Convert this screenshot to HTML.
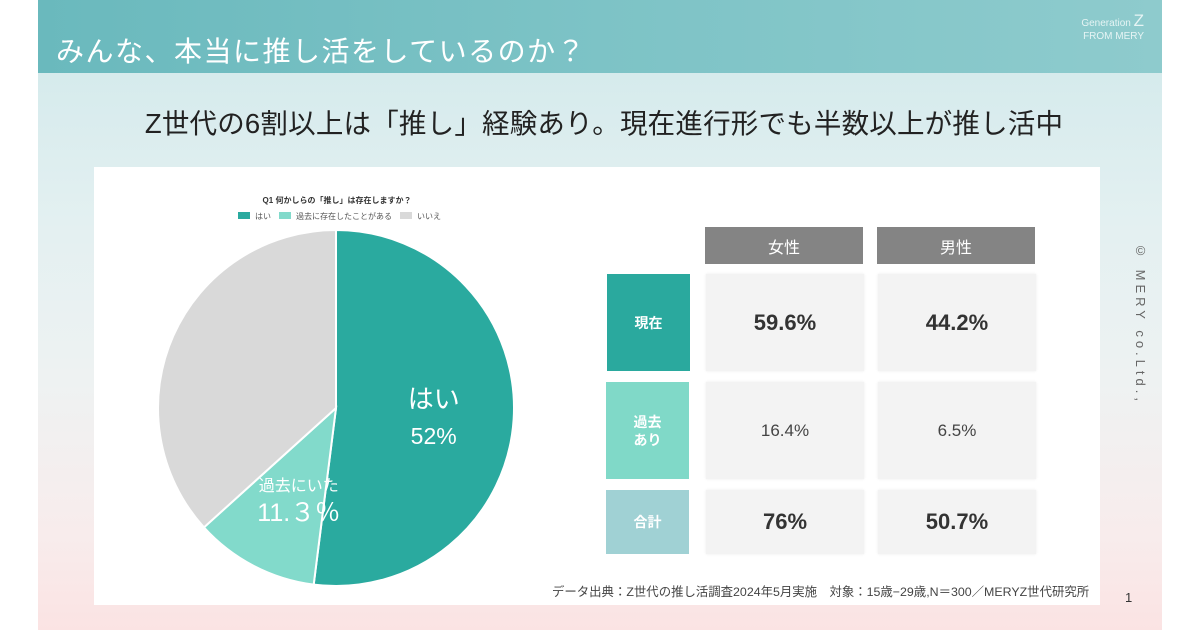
<!DOCTYPE html>
<html><head><meta charset="utf-8">
<style>
body{margin:0;width:1200px;height:630px;background:#fff;position:relative;overflow:hidden;font-family:"Liberation Sans","Noto Sans CJK JP",sans-serif}
.slide{position:absolute;left:38px;top:0;width:1124px;height:630px;background:linear-gradient(180deg,#cfe8ea 0%,#e3f0f1 35%,#eef2f2 60%,#f8ecec 85%,#fbe3e3 100%)}
.header{position:absolute;left:0;top:0;width:1124px;height:73px;background:linear-gradient(90deg,#6ab9bd,#7dc3c6 50%,#8ecbcd)}
.abs{position:absolute}
.cell{position:absolute;display:flex;align-items:center;justify-content:center;text-align:center}
.val{background:#f3f3f3;box-shadow:0 0 3px rgba(0,0,0,0.08);color:#333}
</style></head><body>
<div class="slide">
<div class="header"></div>
<div class="abs" style="left:18px;top:30px;font-size:28px;color:#fff;letter-spacing:1.5px">みんな、本当に推し活をしているのか？</div>
<div class="abs" style="left:1036px;top:14px;color:#e6f4f4;font-size:10px;text-align:right;width:70px;line-height:13px">Generation <span style="font-size:17px">Z</span><br>FROM MERY</div>
<div class="abs" style="left:4px;width:1124px;text-align:center;top:101px;font-size:27.5px;color:#222;letter-spacing:0.2px">Z世代の6割以上は「推し」経験あり。現在進行形でも半数以上が推し活中</div>
<div class="abs" style="left:1095px;top:243px;writing-mode:vertical-rl;font-size:13px;color:#666;letter-spacing:4px">© MERY co.Ltd.,</div>
<div class="abs" style="left:1087px;top:590px;font-size:13px;color:#333">1</div>
<div class="abs" style="left:56px;top:167px;width:1006px;height:438px;background:#fff"></div>
</div>
<div class="abs" style="left:160px;width:354px;text-align:center;top:195px;font-size:8px;font-weight:bold;color:#333">Q1 何かしらの「推し」は存在しますか？</div>
<div class="abs" style="left:238px;top:211px;font-size:8px;color:#555;display:flex;gap:8px;align-items:center">
<span><i style="display:inline-block;width:12px;height:7px;background:#2aaa9f;margin-right:5px"></i>はい</span>
<span><i style="display:inline-block;width:12px;height:7px;background:#82dacb;margin-right:5px"></i>過去に存在したことがある</span>
<span><i style="display:inline-block;width:12px;height:7px;background:#d9d9d9;margin-right:5px"></i>いいえ</span>
</div>
<svg id="pie" class="abs" style="left:0;top:0" width="1200" height="630"></svg>
<div class="abs" style="left:552px;top:582px;font-size:12.4px;color:#444">データ出典：Z世代の推し活調査2024年5月実施　対象：15歳−29歳,N＝300／MERYZ世代研究所</div>

<div class="cell" style="left:705px;top:227px;width:158px;height:37px;background:#848484;color:#fff;font-size:16px">女性</div>
<div class="cell" style="left:877px;top:227px;width:158px;height:37px;background:#848484;color:#fff;font-size:16px">男性</div>
<div class="cell" style="left:607px;top:274px;width:83px;height:97px;background:#2aa99e;color:#fff;font-size:14px;font-weight:bold">現在</div>
<div class="cell" style="left:606px;top:382px;width:83px;height:97px;background:#80d9c8;color:#fff;font-size:14px;font-weight:bold;line-height:18px">過去<br>あり</div>
<div class="cell" style="left:606px;top:490px;width:83px;height:64px;background:#a0d1d4;color:#fff;font-size:14px;font-weight:bold">合計</div>
<div class="cell val" style="left:706px;top:274px;width:158px;height:97px;font-size:22px;font-weight:bold">59.6%</div>
<div class="cell val" style="left:878px;top:274px;width:158px;height:97px;font-size:22px;font-weight:bold">44.2%</div>
<div class="cell val" style="left:706px;top:382px;width:158px;height:97px;font-size:17px;color:#444">16.4%</div>
<div class="cell val" style="left:878px;top:382px;width:158px;height:97px;font-size:17px;color:#444">6.5%</div>
<div class="cell val" style="left:706px;top:490px;width:158px;height:64px;font-size:22px;font-weight:bold">76%</div>
<div class="cell val" style="left:878px;top:490px;width:158px;height:64px;font-size:22px;font-weight:bold">50.7%</div>

<script>
const categories=["はい","過去にいた","いいえ"];
const values=[52,11.3,36.7];
const labels=["52%","11.３％",""];
const colors=["#2aaa9f","#82dacb","#d9d9d9"];
const svg=document.getElementById('pie');
const NS="http://www.w3.org/2000/svg";
const cx=336,cy=408,r=178;
const total=values.reduce((a,b)=>a+b,0);
function pt(a,rr){return [cx+rr*Math.sin(a),cy-rr*Math.cos(a)];}
let a0=0;
values.forEach((v,i)=>{
  const a1=a0+v/total*2*Math.PI;
  const p0=pt(a0,r),p1=pt(a1,r);
  const large=(a1-a0)>Math.PI?1:0;
  const path=document.createElementNS(NS,'path');
  path.setAttribute('d',`M${cx},${cy}L${p0[0]},${p0[1]}A${r},${r} 0 ${large} 1 ${p1[0]},${p1[1]}Z`);
  path.setAttribute('fill',colors[i]);
  path.setAttribute('stroke','#fff');
  path.setAttribute('stroke-width','2');
  
  
  svg.appendChild(path);
  if(labels[i]){
    const mid=(a0+a1)/2;
    const lp=pt(mid,r*0.55);
    [categories[i],labels[i]].forEach((t,k)=>{
      const tx=document.createElementNS(NS,'text');
      tx.setAttribute('x',lp[0]+(i===0?0:8));tx.setAttribute('y',lp[1]+(i===0?(k===0?-6:30):(k===0?-4:26)));
      tx.setAttribute('text-anchor','middle');tx.setAttribute('fill','#fff');
      tx.setAttribute('font-size',i===0?(k===0?26:23):(k===0?16:25));
      tx.setAttribute('font-family','"Liberation Sans","Noto Sans CJK JP",sans-serif');
      tx.textContent=t;
      
      
      svg.appendChild(tx);
    });
  }
  a0=a1;
});
</script>
</body></html>
